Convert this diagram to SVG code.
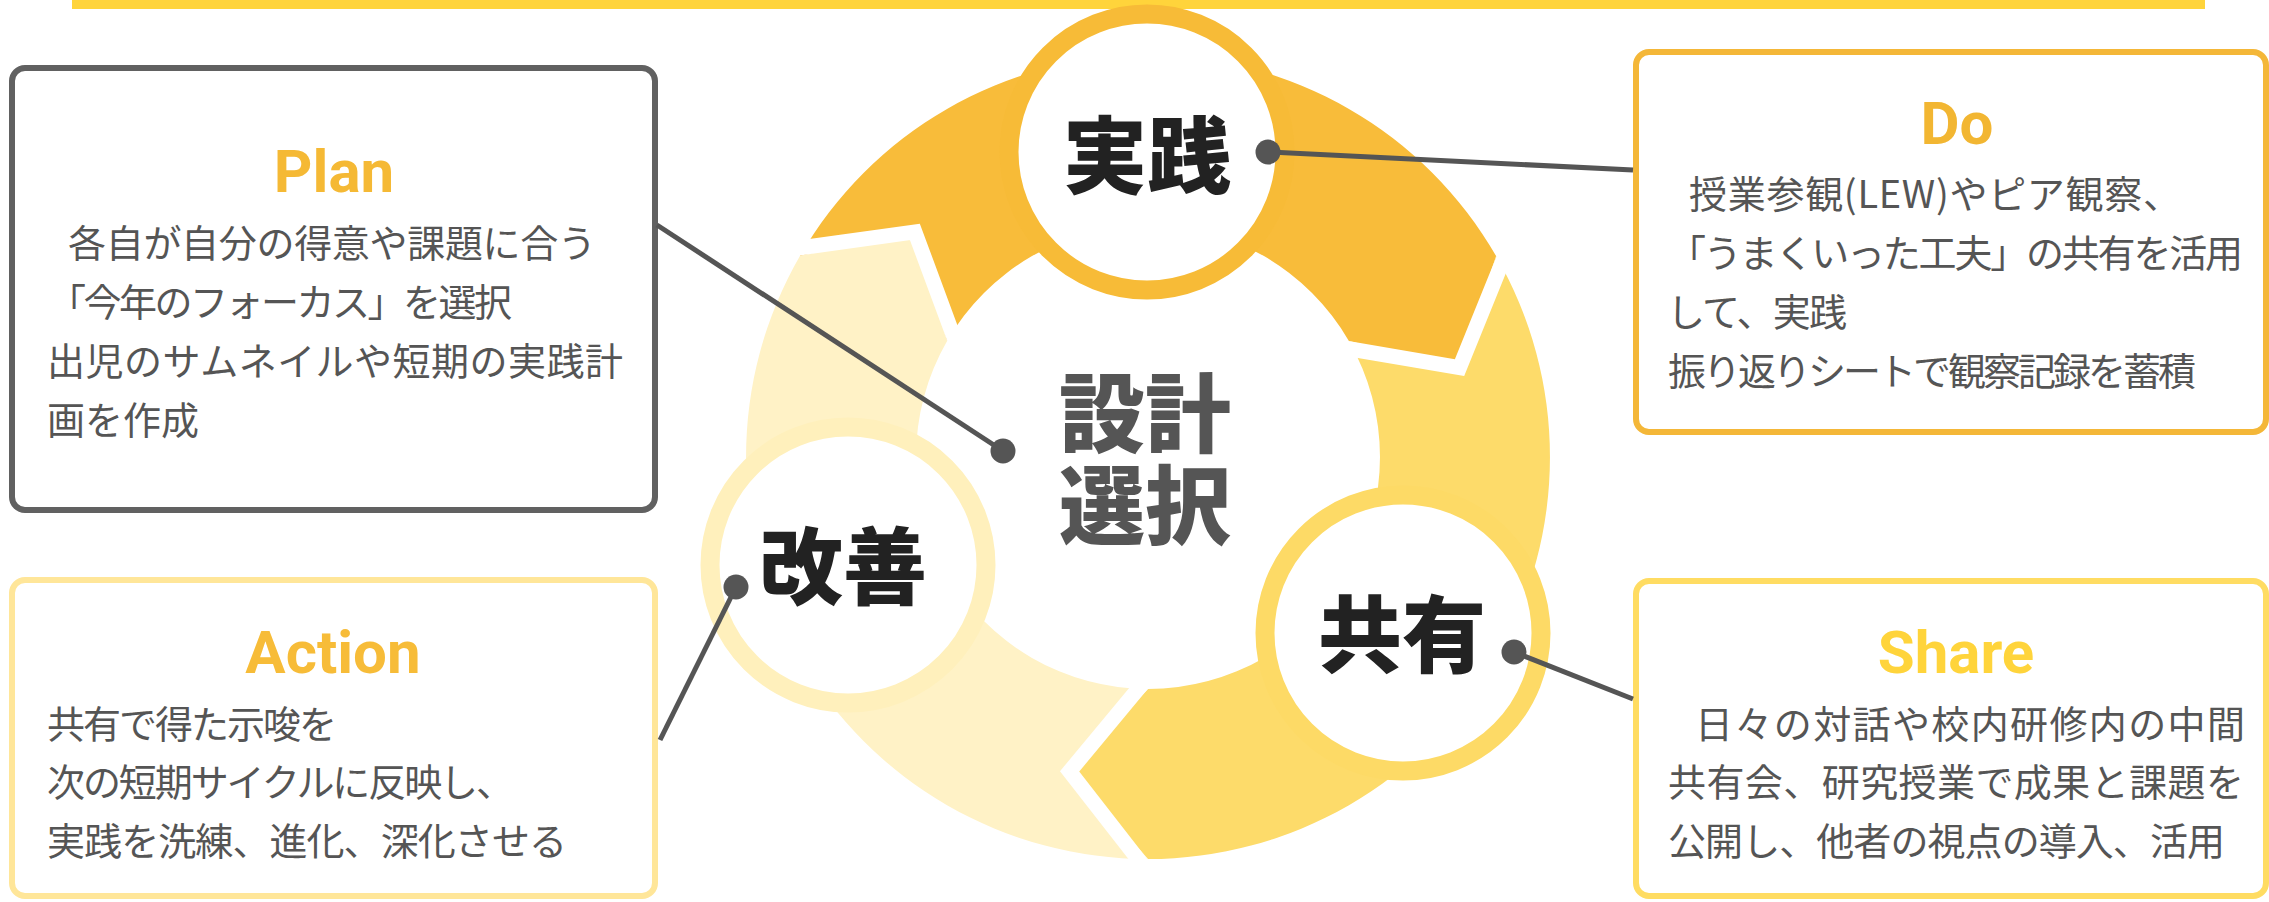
<svg xmlns="http://www.w3.org/2000/svg" width="2269" height="902" viewBox="0 0 2269 902">
<style>
.box{fill:#fff;stroke-width:6}
.title{font-family:Roboto,"Liberation Sans",sans-serif;font-weight:700;font-size:60px;text-anchor:middle}
.body{font-family:"Noto Sans CJK JP","Noto Sans CJK SC",sans-serif;font-size:38px;fill:#555}
.lbl{font-family:"Noto Sans CJK JP","Noto Sans CJK SC",sans-serif;font-weight:900;font-size:84px;fill:#222;text-anchor:middle}
.ctr{font-family:"Noto Sans CJK JP","Noto Sans CJK SC",sans-serif;font-weight:900;font-size:86px;fill:#555;text-anchor:middle}
.gap{fill:none;stroke:#fff;stroke-width:15;stroke-linejoin:miter;stroke-miterlimit:10}
.conn{stroke:#555;stroke-width:5;fill:none}
.dot{fill:#555}
</style>
<rect x="72" y="0" width="2133" height="9" fill="#FFD43B"/>

<g id="cycle">
<path id="seg-do" fill="#F8BC3A" d="M799.9,256 A402,402 0 0 1 1496.1,256 L1459.5,367.7 L1348.9,341 A232,232 0 0 0 947.1,341 L914.9,231.9 Z"/>
<path id="seg-share" fill="#FDDB6A" d="M1496.1,256 A402,402 0 0 1 1148,859 L1069.6,771.4 L1148,689 A232,232 0 0 0 1348.9,341 L1459.5,367.7 Z"/>
<path id="seg-action" fill="#FFF2C6" d="M1148,859 A402,402 0 0 1 799.9,256 L914.9,231.9 L947.1,341 A232,232 0 0 0 1148,689 L1069.6,771.4 Z"/>
<polyline class="gap" points="788.6,249.5 914.9,231.9 957.5,347"/>
<polyline class="gap" points="1507.4,249.5 1459.5,367.7 1338.5,347"/>
<polyline class="gap" points="1148,872 1069.6,771.4 1148,677"/>
</g>

<g id="center">
<text class="ctr" x="1145" y="446">設計<tspan x="1145" y="538">選択</tspan></text>
</g>

<g id="node-jissen">
<circle cx="1147" cy="152" r="138" fill="#fff" stroke="#F7BB37" stroke-width="19"/>
<text class="lbl" x="1147" y="187">実践</text>
</g>
<g id="node-kyoyu">
<circle cx="1403" cy="633" r="138" fill="#fff" stroke="#FDDA66" stroke-width="19"/>
<text class="lbl" x="1402" y="666">共有</text>
</g>
<g id="node-kaizen">
<circle cx="848" cy="565" r="138" fill="#fff" stroke="#FFF0BC" stroke-width="19"/>
<text class="lbl" x="843" y="598">改善</text>
</g>

<g id="box-plan">
<rect class="box" x="12" y="68" width="643" height="442" rx="13" stroke="#616161"/>
<text class="title" x="334" y="192" fill="#F5B935">Plan</text>
<text class="body" x="68" y="257" textLength="528" lengthAdjust="spacing">各自が自分の得意や課題に合う</text>
<text class="body" x="48" y="316" textLength="464" lengthAdjust="spacing">「今年のフォーカス」を選択</text>
<text class="body" x="47" y="375" textLength="576" lengthAdjust="spacing">出児のサムネイルや短期の実践計</text>
<text class="body" x="47" y="434">画を作成</text>
</g>

<g id="box-do">
<rect class="box" x="1636" y="52" width="630" height="380" rx="13" stroke="#F4B738"/>
<text class="title" x="1957" y="144" fill="#F2B632">Do</text>
<text class="body" x="1689" y="208" textLength="492" lengthAdjust="spacing">授業参観(LEW)やピア観察、</text>
<text class="body" x="1668" y="267" textLength="575" lengthAdjust="spacing">「うまくいった工夫」の共有を活用</text>
<text class="body" x="1667" y="326" textLength="180" lengthAdjust="spacing">して、実践</text>
<text class="body" x="1668" y="385" textLength="528" lengthAdjust="spacing">振り返りシートで観察記録を蓄積</text>
</g>

<g id="box-action">
<rect class="box" x="12" y="580" width="643" height="316" rx="13" stroke="#FFE699"/>
<text class="title" x="333" y="673" fill="#F7BC38">Action</text>
<text class="body" x="47" y="738" textLength="290" lengthAdjust="spacing">共有で得た示唆を</text>
<text class="body" x="47" y="796" textLength="467" lengthAdjust="spacing">次の短期サイクルに反映し、</text>
<text class="body" x="47" y="855" textLength="520" lengthAdjust="spacing">実践を洗練、進化、深化させる</text>
</g>

<g id="box-share">
<rect class="box" x="1636" y="581" width="630" height="315" rx="13" stroke="#FFDC62"/>
<text class="title" x="1956" y="673" fill="#FFD43B">Share</text>
<text class="body" x="1695" y="738" textLength="550" lengthAdjust="spacing">日々の対話や校内研修内の中間</text>
<text class="body" x="1668" y="796" textLength="576" lengthAdjust="spacing">共有会、研究授業で成果と課題を</text>
<text class="body" x="1668" y="855" textLength="557" lengthAdjust="spacing">公開し、他者の視点の導入、活用</text>
</g>

<g id="connectors">
<line class="conn" x1="1268" y1="152" x2="1633" y2="170"/>
<line class="conn" x1="657" y1="225" x2="1003" y2="451"/>
<line class="conn" x1="660" y1="740" x2="736" y2="587"/>
<line class="conn" x1="1514" y1="652" x2="1633" y2="699"/>
<circle class="dot" cx="1268" cy="152" r="12.5"/>
<circle class="dot" cx="1003" cy="451" r="12.5"/>
<circle class="dot" cx="736" cy="587" r="12.5"/>
<circle class="dot" cx="1514" cy="652" r="12.5"/>
</g>
</svg>
